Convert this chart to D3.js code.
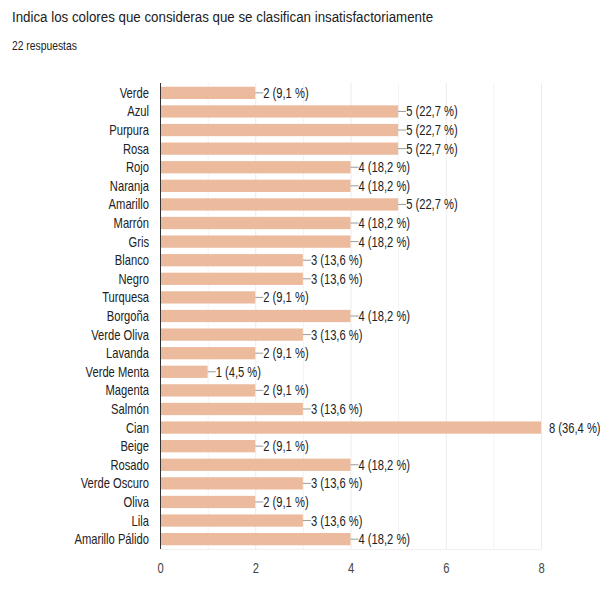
<!DOCTYPE html>
<html>
<head>
<meta charset="utf-8">
<script src="https://cdn.jsdelivr.net/npm/d3@7"></script>
<style>
  html, body { margin: 0; padding: 0; background: #fff; }
  svg { display: block; font-family: "Liberation Sans", Arial, sans-serif; }
</style>
</head>
<body>
<svg id="chart" width="600" height="590"></svg>
<script>
const title = "Indica los colores que consideras que se clasifican insatisfactoriamente";
const subtitle = "22 respuestas";
const categories = ["Verde", "Azul", "Purpura", "Rosa", "Rojo", "Naranja", "Amarillo", "Marrón", "Gris",
  "Blanco", "Negro", "Turquesa", "Borgoña", "Verde Oliva", "Lavanda", "Verde Menta", "Magenta", "Salmón",
  "Cian", "Beige", "Rosado", "Verde Oscuro", "Oliva", "Lila", "Amarillo Pálido"];
const counts = [2, 5, 5, 5, 4, 4, 5, 4, 4, 3, 3, 2, 4, 3, 2, 1, 2, 3, 8, 2, 4, 3, 2, 3, 4];
const percents = ["9,1", "22,7", "22,7", "22,7", "18,2", "18,2", "22,7", "18,2", "18,2", "13,6", "13,6", "9,1",
  "18,2", "13,6", "9,1", "4,5", "9,1", "13,6", "36,4", "9,1", "18,2", "13,6", "9,1", "13,6", "18,2"];
const xTicks = [0, 2, 4, 6, 8];

(function draw() {
  const svg = d3.select("#chart");
  const plotLeft = 160, plotRight = 541, plotTop = 83, plotBottom = 549;
  const headSqueeze = 0.86; // narrow lettering for the heading
  const squeeze = 0.8;      // narrower lettering for axis and value labels
  const fontStack = "\"Liberation Sans\", Arial, sans-serif";

  // text placed at (tx, ty) and narrowed horizontally around its anchor
  function label(parent, tx, ty, str, sx) {
    return parent.append("text")
      .attr("transform", `translate(${tx},${ty}) scale(${sx},1)`)
      .text(str);
  }

  label(svg, 12, 22, title, headSqueeze).attr("font-size", 15.5).attr("fill", "#202124");
  label(svg, 12, 50, subtitle, headSqueeze).attr("font-size", 12).attr("fill", "#202124");

  const x = d3.scaleLinear().domain([0, 8]).range([plotLeft, plotRight]);
  const y = d3.scaleBand().domain(categories).range([plotTop, plotBottom]).paddingInner(0.34).paddingOuter(0.2);

  // vertical gridlines at each unit
  svg.append("g").selectAll("line").data(d3.range(1, 9)).join("line")
    .attr("x1", d => x(d) + 0.5).attr("x2", d => x(d) + 0.5)
    .attr("y1", plotTop).attr("y2", plotBottom)
    .attr("stroke", d => d % 2 === 0 ? "#ebebeb" : "#f3f3f3").attr("stroke-width", 1);
  svg.append("line").attr("x1", plotLeft).attr("x2", plotRight).attr("y1", plotBottom + 0.5).attr("y2", plotBottom + 0.5)
    .attr("stroke", "#f0f0f0");

  // bars
  svg.append("g").selectAll("rect").data(categories).join("rect")
    .attr("x", x(0))
    .attr("y", d => y(d))
    .attr("width", (d, i) => x(counts[i]) - x(0))
    .attr("height", y.bandwidth())
    .attr("fill", "#ecbb9d");

  // value annotations with leader ticks
  const ann = svg.append("g");
  const xMax = x.domain()[1];
  categories.forEach((c, i) => {
    const cy = y(c) + y.bandwidth() / 2;
    const xe = x(counts[i]);
    if (counts[i] < xMax) {
      ann.append("line").attr("x1", xe).attr("x2", xe + 8).attr("y1", cy).attr("y2", cy)
        .attr("stroke", "#9a9a9a").attr("stroke-width", 1);
    }
    label(ann, xe + 8, cy + 5, `${counts[i]} (${percents[i]} %)`, squeeze)
      .attr("font-size", 14).attr("fill", "#222");
  });

  // category axis
  const yAxis = svg.append("g").attr("transform", `translate(${plotLeft},0)`)
    .call(d3.axisLeft(y).tickSize(0).tickPadding(0));
  yAxis.select(".domain").attr("stroke", "#333").attr("d", `M0.5,${plotTop}V${plotBottom}`);
  yAxis.selectAll(".tick text")
    .attr("x", 0).attr("dy", null).attr("y", 0)
    .attr("transform", `translate(-11,5) scale(${squeeze},1)`)
    .attr("font-size", 14).attr("fill", "#222").attr("font-family", fontStack);

  // value axis labels
  const xAxis = svg.append("g").attr("transform", `translate(0,${plotBottom})`)
    .call(d3.axisBottom(x).tickValues(xTicks).tickSize(0).tickPadding(0).tickFormat(d3.format("d")));
  xAxis.select(".domain").remove();
  xAxis.selectAll(".tick text")
    .attr("y", 0).attr("dy", null)
    .attr("transform", `translate(0,24) scale(${squeeze},1)`)
    .attr("font-size", 14).attr("fill", "#444").attr("font-family", fontStack);
})();
</script>
</body>
</html>
